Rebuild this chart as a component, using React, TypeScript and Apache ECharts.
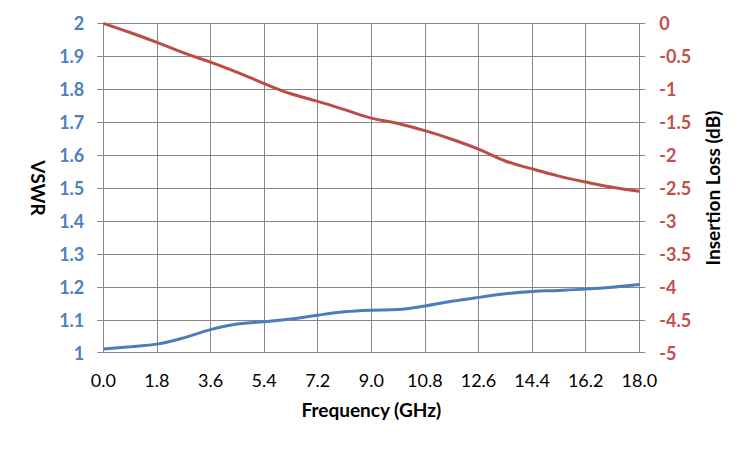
import React, { useEffect, useRef } from "react";
import * as echarts from "echarts";

const frequency = [0, 0.9, 1.8, 2.7, 3.6, 4.5, 5.4, 6.3, 7.2, 8.1, 9.0, 9.9, 10.8, 11.7, 12.6, 13.5, 14.4, 15.3, 16.2, 17.1, 18.0];
const vswr = [1.011, 1.018, 1.026, 1.045, 1.07, 1.087, 1.094, 1.102, 1.114, 1.124, 1.129, 1.131, 1.142, 1.156, 1.168, 1.179, 1.186, 1.189, 1.193, 1.199, 1.207];
const insertionLoss = [0, -0.14, -0.29, -0.45, -0.59, -0.745, -0.915, -1.07, -1.185, -1.31, -1.44, -1.52, -1.63, -1.76, -1.91, -2.09, -2.21, -2.32, -2.41, -2.49, -2.55];

const FONT = "Lato";
const GRID = "#878787";
const BLUE_TXT = "#4F81BD";
const RED_TXT = "#C0504D";
const BLUE_LINE = "#4A7EBB";
const RED_LINE = "#BE4B48";

export default function App() {
  const ref = useRef<HTMLDivElement>(null);
  useEffect(() => {
    document.body.style.margin = "0";
    const chart = echarts.init(ref.current!, undefined, { renderer: "svg" });
    chart.setOption({
      animation: false,
      backgroundColor: "#ffffff",
      grid: { left: 103.3, right: 110.7, top: 23.3, bottom: 97.3, containLabel: false },
      xAxis: {
        type: "value",
        min: 0,
        max: 18,
        interval: 1.8,
        name: "Frequency (GHz)",
        nameLocation: "middle",
        nameGap: 47,
        nameTextStyle: { fontFamily: FONT, fontSize: 19, fontWeight: "bold", color: "#000" },
        axisLine: { show: true, lineStyle: { color: GRID, width: 1 } },
        axisTick: { show: true, length: 7, lineStyle: { color: GRID } },
        splitLine: { show: true, lineStyle: { color: GRID, width: 1 } },
        axisLabel: {
          margin: 18,
          fontFamily: FONT,
          fontSize: 18,
          color: "#000",
          formatter: (v: number) => v.toFixed(1),
        },
      },
      yAxis: [
        {
          type: "value",
          min: 1,
          max: 2,
          interval: 0.1,
          position: "left",
          name: "VSWR",
          nameLocation: "middle",
          nameRotate: -90,
          nameGap: 55,
          nameTextStyle: { fontFamily: FONT, fontSize: 19, fontWeight: "bold", color: "#000" },
          axisLine: { show: true, lineStyle: { color: GRID, width: 1 } },
          axisTick: { show: true, length: 6, lineStyle: { color: GRID } },
          splitLine: { show: true, lineStyle: { color: GRID, width: 1 } },
          axisLabel: {
            margin: 19,
            fontFamily: FONT,
            fontSize: 18,
            fontWeight: "bold",
            color: BLUE_TXT,
            formatter: (v: number) => String(parseFloat(v.toFixed(1))),
          },
        },
        {
          type: "value",
          min: -5,
          max: 0,
          interval: 0.5,
          position: "right",
          name: "Insertion Loss (dB)",
          nameLocation: "middle",
          nameRotate: 90,
          nameGap: 64,
          nameTextStyle: { fontFamily: FONT, fontSize: 19, fontWeight: "bold", color: "#000" },
          axisLine: { show: true, lineStyle: { color: GRID, width: 1 } },
          axisTick: { show: true, length: 6, lineStyle: { color: GRID } },
          splitLine: { show: false },
          axisLabel: {
            margin: 20,
            fontFamily: FONT,
            fontSize: 18,
            fontWeight: "bold",
            color: RED_TXT,
            formatter: (v: number) => String(parseFloat(v.toFixed(1))),
          },
        },
      ],
      series: [
        {
          name: "VSWR",
          type: "line",
          yAxisIndex: 0,
          smooth: 0.4,
          showSymbol: false,
          symbol: "none",
          lineStyle: { color: BLUE_LINE, width: 3 },
          data: frequency.map((f, i) => [f, vswr[i]]),
        },
        {
          name: "Insertion Loss",
          type: "line",
          yAxisIndex: 1,
          smooth: 0.4,
          showSymbol: false,
          symbol: "none",
          lineStyle: { color: RED_LINE, width: 3 },
          data: frequency.map((f, i) => [f, insertionLoss[i]]),
        },
      ],
    });
    return () => chart.dispose();
  }, []);
  return <div ref={ref} style={{ width: 750, height: 450 }} />;
}
